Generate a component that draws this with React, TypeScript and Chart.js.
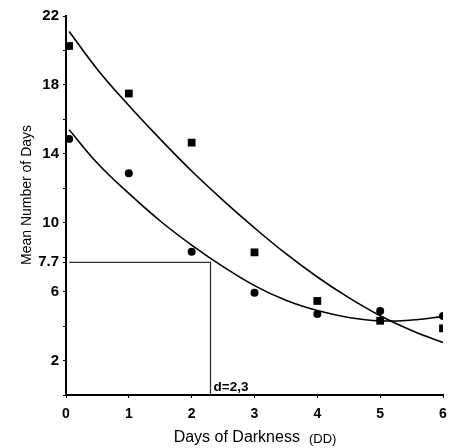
import React, { useEffect, useRef } from "react";
import { Chart, registerables } from "chart.js";

Chart.register(...registerables);

// Observed data (days of darkness vs mean number of days)
const squareX = [0.05, 1, 2, 3, 4, 5, 6];
const squareY = [20.26, 17.5, 14.65, 8.28, 5.46, 4.31, 3.87];
const circleX = [0.05, 1, 2, 3, 4, 5, 6];
const circleY = [14.86, 12.87, 8.32, 5.94, 4.7, 4.88, 4.59];

// Fitted curves
const upperCurveX = [0.05, 0.5, 1, 1.5, 2, 2.5, 3, 3.5, 4, 4.5, 5, 5.5, 6];
const upperCurveY = [21.1, 18.9, 16.8, 14.85, 13.0, 11.3, 9.7, 8.2, 6.85, 5.65, 4.6, 3.75, 3.05];
const lowerCurveX = [0.05, 0.5, 1, 1.5, 2, 2.5, 3, 3.5, 4, 4.5, 5, 5.5, 6];
const lowerCurveY = [15.4, 13.45, 11.7, 10.1, 8.7, 7.45, 6.35, 5.5, 4.9, 4.5, 4.3, 4.35, 4.55];

// Reference lines (7.7 days -> d = 2.3)
const refLineX = [0.05, 2.3, 2.3];
const refLineY = [7.7, 7.7, 0];
const refLabel = "d=2,3";

// Axes
const xTickValues = [0, 1, 2, 3, 4, 5, 6];
const yTickValues = [0, 2, 4, 6, 7.7, 8, 10, 12, 14, 16, 18, 20, 22];
const yLabelled = [2, 6, 7.7, 10, 14, 18, 22];
const xTitle = "Days of Darkness";
const xTitleUnit = "(DD)";
const yTitle = "Mean Number of Days";

const pts = (xs: number[], ys: number[]) => xs.map((x, i) => ({ x, y: ys[i] }));
const FONT = "'Liberation Sans', Arial, sans-serif";

export default function App() {
  const ref = useRef<HTMLCanvasElement | null>(null);
  useEffect(() => {
    if (!ref.current) return;
    const textPlugin = {
      id: "texts",
      afterDraw(chart: any) {
        const ctx = chart.ctx;
        const xs = chart.scales.x;
        const ys = chart.scales.y;
        ctx.save();
        ctx.fillStyle = "#000";
        // d label
        ctx.font = `bold 13.5px ${FONT}`;
        ctx.textAlign = "left";
        ctx.textBaseline = "bottom";
        ctx.fillText(refLabel, xs.getPixelForValue(2.3) + 3, ys.getPixelForValue(0) - 1);
        // x title
        ctx.textBaseline = "middle";
        ctx.font = `16px ${FONT}`;
        const w1 = ctx.measureText(xTitle).width;
        ctx.font = `13px ${FONT}`;
        const w2 = ctx.measureText(xTitleUnit).width;
        const gap = 9;
        const total = w1 + gap + w2;
        const cx = 255;
        const startX = cx - total / 2;
        ctx.font = `16px ${FONT}`;
        ctx.fillText(xTitle, startX, 438);
        ctx.font = `13px ${FONT}`;
        ctx.fillText(xTitleUnit, startX + w1 + gap, 439);
        // y title
        ctx.translate(27, 195);
        ctx.rotate(-Math.PI / 2);
        ctx.textAlign = "center";
        ctx.font = `14px ${FONT}`;
        ctx.fillText(yTitle, 0, 0);
        ctx.restore();
      },
    };

    const chart = new Chart(ref.current, {
      type: "scatter",
      data: {
        datasets: [
          {
            label: "upper fit",
            data: pts(upperCurveX, upperCurveY),
            showLine: true,
            borderColor: "#000",
            borderWidth: 1.6,
            pointRadius: 0,
            tension: 0.4,
          },
          {
            label: "lower fit",
            data: pts(lowerCurveX, lowerCurveY),
            showLine: true,
            borderColor: "#000",
            borderWidth: 1.6,
            pointRadius: 0,
            tension: 0.4,
          },
          {
            label: "ref",
            data: pts(refLineX, refLineY),
            showLine: true,
            borderColor: "#333",
            borderWidth: 1.3,
            pointRadius: 0,
            tension: 0,
          },
          {
            label: "squares",
            data: pts(squareX, squareY),
            pointStyle: "rect",
            pointRadius: 5.5,
            backgroundColor: "#000",
            borderColor: "#000",
            borderWidth: 0,
          },
          {
            label: "circles",
            data: pts(circleX, circleY),
            pointStyle: "circle",
            pointRadius: 4,
            backgroundColor: "#000",
            borderColor: "#000",
            borderWidth: 0,
          },
        ],
      },
      options: {
        responsive: false,
        animation: false,
        layout: { padding: { top: 16, right: 12, left: 0, bottom: 0 } },
        plugins: { legend: { display: false }, tooltip: { enabled: false } },
        scales: {
          x: {
            type: "linear",
            min: 0,
            max: 6,
            afterBuildTicks: (axis: any) => {
              axis.ticks = xTickValues.map((v) => ({ value: v }));
            },
            afterFit: (axis: any) => {
              axis.height = 53;
            },
            ticks: {
              autoSkip: false,
              maxRotation: 0,
              color: "#000",
              padding: 8,
              font: { family: FONT, size: 14, weight: "bold" },
            },
            grid: { drawOnChartArea: false, drawTicks: true, tickLength: 3, color: "#000" },
            border: { color: "#000", width: 2 },
          },
          y: {
            type: "linear",
            min: 0,
            max: 22,
            afterBuildTicks: (axis: any) => {
              axis.ticks = yTickValues.map((v) => ({ value: v }));
            },
            afterFit: (axis: any) => {
              axis.width = 66;
            },
            ticks: {
              autoSkip: false,
              color: "#000",
              padding: 4,
              font: { family: FONT, size: 15, weight: "bold" },
              callback: (v: any) => (yLabelled.includes(Number(v)) ? String(v) : ""),
            },
            grid: { drawOnChartArea: false, drawTicks: true, tickLength: 3, color: "#000" },
            border: { color: "#000", width: 2 },
          },
        },
      },
      plugins: [textPlugin],
    } as any);
    return () => chart.destroy();
  }, []);

  return (
    <div style={{ position: "fixed", left: 0, top: 0, width: 455, height: 448, background: "#fff" }}>
      <canvas ref={ref} width={455} height={448} style={{ display: "block" }} />
    </div>
  );
}
